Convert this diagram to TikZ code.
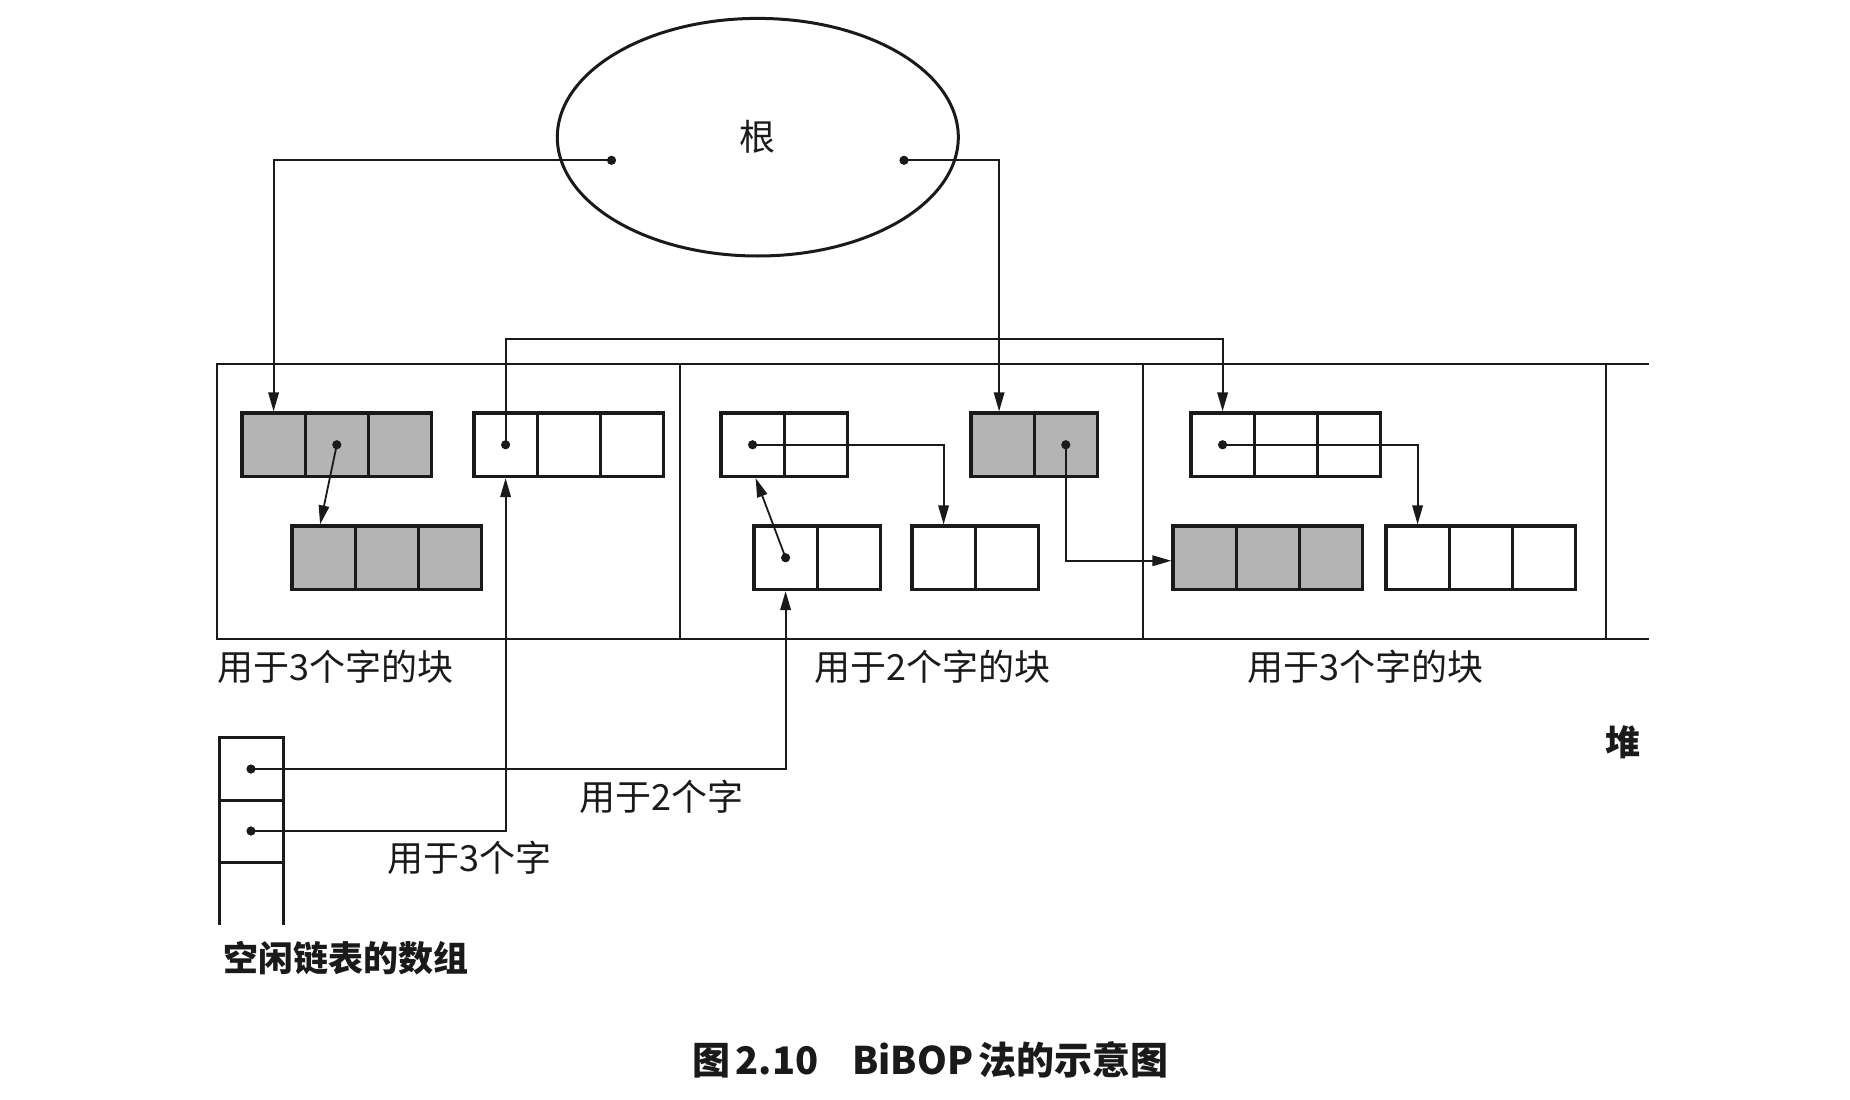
\documentclass[tikz,border=0pt]{standalone}
\usepackage{fontspec}
\newfontfamily\cjk{Noto Sans CJK SC}
\usetikzlibrary{arrows.meta,shapes.geometric}
\definecolor{ink}{HTML}{1A1A1A}
\definecolor{shade}{HTML}{B4B4B4}
\newcommand{\myblock}[5]{%
  \foreach \i in {1,...,#4}{%
    \node[cellnode,fill=#5] (#1-\i) at ({#2+31.6+63.2*(\i-1)},{#3+31.75}) {};%
  }%
}
\newcommand{\pdot}[1]{\fill[ink] (#1) circle[radius=4.6pt];}
\tikzset{
  cellnode/.style={draw=ink, line width=3.2pt, minimum width=63.2pt, minimum height=63.5pt, inner sep=0pt},
  conn/.style={draw=ink, line width=1.8pt, -{Triangle[length=19pt,width=10.5pt]}},
  heapline/.style={draw=ink, line width=1.8pt},
  arrline/.style={draw=ink, line width=3pt},
  lbl/.style={font=\cjk\fontsize{36}{40}\selectfont, text=ink, inner sep=0pt, anchor=west},
  blbl/.style={font=\cjk\bfseries\fontsize{35}{40}\selectfont, text=ink, inner sep=0pt, anchor=west},
}
\begin{document}
\begin{tikzpicture}[x=1pt,y=-1pt]
\useasboundingbox (0,0) rectangle (1850,1100);
\fill[white] (0,0) rectangle (1850,1100);

% root
\node[ellipse, draw=ink, line width=3pt, minimum width=401pt, minimum height=237.6pt, inner sep=0pt,
      font=\cjk\fontsize{36}{40}\selectfont, text=ink] (root) at (757.8,137.2) {根};
\coordinate (rL) at (611.5,160.3);
\coordinate (rR) at (904,160.3);

% heap
\draw[heapline] (1649,364) -- (217,364) -- (217,639) -- (1649,639);
\foreach \xx in {680,1143,1606} \draw[heapline] (\xx,364) -- (\xx,639);

% blocks
\myblock{A}{242}{413}{3}{shade}
\myblock{B}{474}{413}{3}{white}
\myblock{C}{292}{526}{3}{shade}
\myblock{D}{721}{413}{2}{white}
\myblock{E}{971}{413}{2}{shade}
\myblock{F}{912}{526}{2}{white}
\myblock{G}{754}{526}{2}{white}
\myblock{I}{1191}{413}{3}{white}
\myblock{H}{1173}{526}{3}{shade}
\myblock{J}{1386}{526}{3}{white}

% free list array
\draw[arrline] (219,925) -- (219,737) -- (283,737) -- (283,925);
\draw[arrline] (219,800) -- (283,800);
\draw[arrline] (219,862) -- (283,862);
\coordinate (FL-1) at (251,769);
\coordinate (FL-2) at (251,831);
\coordinate (topY) at (0,339);

% connectors
\draw[conn] (rL) -| (A-1.north);
\draw[conn] (rR) -| ([xshift=-3.5pt]E-1.north);
\draw[conn] (B-1.center) -- (B-1.center |- topY) -| (I-1.north);
\draw[conn] (FL-1) -| (G-1.south);
\draw[conn] (FL-2) -| (B-1.south);
\draw[conn] (A-2.center) -- ([xshift=-3.5pt]C-1.north);
\draw[conn] (D-1.center) -| (F-1.north);
\draw[conn] (G-1.center) -- ([xshift=3pt]D-1.south);
\draw[conn] (E-2.center) |- ([yshift=-3pt]H-1.west);
\draw[conn] (I-1.center) -| (J-1.north);

% dots
\pdot{rL}\pdot{rR}
\pdot{A-2.center}\pdot{B-1.center}\pdot{D-1.center}\pdot{E-2.center}
\pdot{G-1.center}\pdot{I-1.center}\pdot{FL-1}\pdot{FL-2}

% labels
\node[lbl] (l1) at (217,667) {用于3个字的块};
\node[lbl] (l2) at (814,667) {用于2个字的块};
\node[lbl] (l3) at (1247,667) {用于3个字的块};
\node[lbl] (l4) at (579,797) {用于2个字};
\node[lbl] (l5) at (387,858) {用于3个字};
\node[blbl] (fl) at (223,958) {空闲链表的数组};
\node[blbl, anchor=center] (heap) at (1623,742) {堆};
\node[font=\cjk\bfseries\fontsize{38}{42}\selectfont, text=ink, inner sep=0pt] (cap) at (930.5,1060)
  {图\hspace{5pt}2.10\hspace{34pt}BiBOP\hspace{5pt}法的示意图};
\end{tikzpicture}
\end{document}
